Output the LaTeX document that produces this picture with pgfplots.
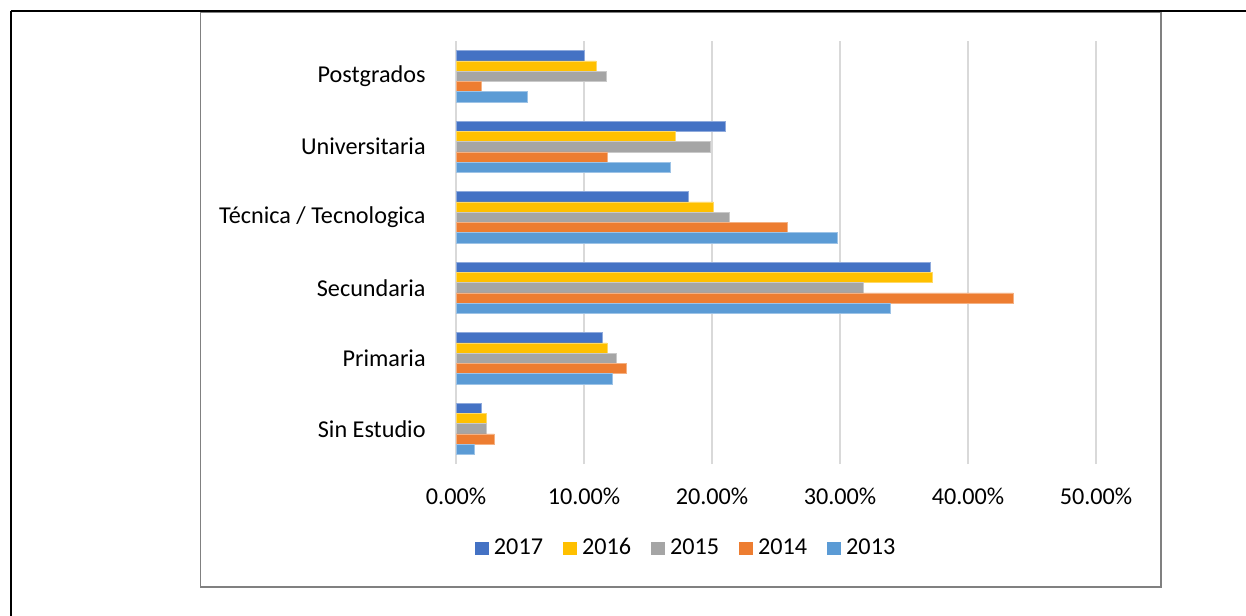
\documentclass[border=0pt]{standalone}
\usepackage{pgfplots}
\pgfplotsset{compat=1.18}
\usepackage{fontspec}
\setmainfont{Carlito}
\definecolor{c17}{HTML}{4472C4}
\definecolor{c16}{HTML}{FFC000}
\definecolor{c15}{HTML}{A5A5A5}
\definecolor{c14}{HTML}{ED7D31}
\definecolor{c13}{HTML}{5B9BD5}
\definecolor{gridc}{HTML}{D9D9D9}
\newcommand{\lbl}{\fontsize{12.1pt}{14pt}\selectfont}
\begin{document}
\begin{tikzpicture}
\useasboundingbox (0,0) rectangle (623pt,-307.5pt);
\draw[line width=1.2pt,black] (5.35pt,-5.5pt) -- (5.35pt,-320pt);
\draw[line width=1pt,black] (5.35pt,-5.5pt) -- (640pt,-5.5pt);
\draw[line width=0.6pt,gray] (100.4pt,-6.2pt) rectangle (580.45pt,-293.5pt);
\begin{axis}[
  at={(228pt,-232pt)}, anchor=south west,
  scale only axis, width=320pt, height=211.5pt,
  xbar, bar width=5.15pt,
  xmin=0, xmax=50, ymin=-0.5, ymax=5.5,
  axis line style={draw=none},
  major tick length=0pt,
  xmajorgrids, grid style={gridc, line width=0.75pt},
  xtick={0,10,20,30,40,50},
  xticklabels={0.00\%,10.00\%,20.00\%,30.00\%,40.00\%,50.00\%},
  ytick={0,1,2,3,4,5},
  yticklabels={Sin Estudio,Primaria,Secundaria,Técnica / Tecnologica,Universitaria,Postgrados},
  x tick label style={font=\lbl, anchor=center, inner sep=0pt, yshift=-16pt},
  y tick label style={font=\lbl, anchor=east, inner sep=0pt, xshift=-15pt},
  legend columns=5,
  legend style={at={(0.358,-0.1986)}, anchor=center, draw=none, font=\lbl,
    nodes={inner sep=0pt},
    /tikz/every odd column/.append style={column sep=2.5pt},
    /tikz/every even column/.append style={column sep=10pt}},
  legend image code/.code={\path[#1,draw=none] (0pt,-3.25pt) rectangle (7pt,3.25pt);},
]
\addplot[fill=c17, draw=c17!60!white, line width=0.3pt, bar shift=10.3pt] coordinates {(2.0,0) (11.4,1) (37.05,2) (18.15,3) (21.0,4) (10.0,5)};
\addplot[fill=c16, draw=c16!60!white, line width=0.3pt, bar shift=5.15pt] coordinates {(2.4,0) (11.8,1) (37.2,2) (20.1,3) (17.1,4) (10.95,5)};
\addplot[fill=c15, draw=c15!60!white, line width=0.3pt, bar shift=0pt] coordinates {(2.4,0) (12.5,1) (31.8,2) (21.35,3) (19.85,4) (11.75,5)};
\addplot[fill=c14, draw=c14!60!white, line width=0.3pt, bar shift=-5.15pt] coordinates {(3.0,0) (13.3,1) (43.55,2) (25.9,3) (11.8,4) (1.95,5)};
\addplot[fill=c13, draw=c13!60!white, line width=0.3pt, bar shift=-10.3pt] coordinates {(1.43,0) (12.2,1) (33.95,2) (29.8,3) (16.75,4) (5.55,5)};
\legend{2017,2016,2015,2014,2013}
\end{axis}
\end{tikzpicture}
\end{document}
